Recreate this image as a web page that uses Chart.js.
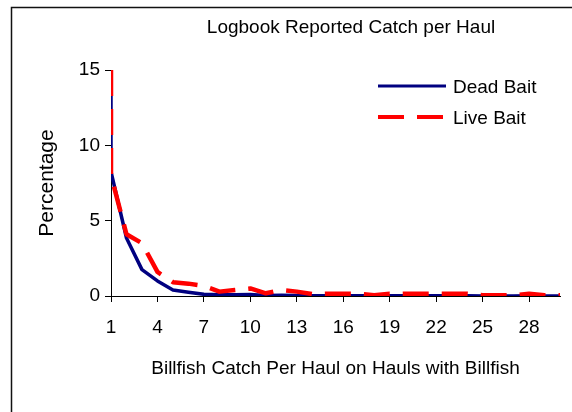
<!DOCTYPE html>
<html>
<head>
<meta charset="utf-8">
<script src="https://cdn.jsdelivr.net/npm/chart.js@4/dist/chart.umd.min.js"></script>
<style>
  html, body { margin: 0; padding: 0; background: #fff; }
  #wrap { width: 572px; height: 412px; }
</style>
</head>
<body>
<div id="wrap"><canvas id="catchChart"></canvas></div>
<script>
// catch per haul (x); the first 1 is the top of the clipped spike at one fish
const hauls = [1, 1, 2, 3, 4, 5, 6, 7, 8, 9, 10, 11, 12, 13, 14, 15, 16, 17, 18, 19, 20, 21, 22, 23, 24, 25, 26, 27, 28, 29, 30];
const deadBait = [15, 8.25, 3.85, 1.75, 1.0, 0.4, 0.25, 0.11, 0.08, 0.08, 0.1, 0.03, 0.05, 0.03, 0.02, 0.02, 0.02, 0.01, 0.01, 0.01, 0.01, 0.01, 0.01, 0.01, 0.01, 0, 0, 0, 0.02, 0, 0];
const liveBait = [15, 8.0, 4.1, 3.5, 1.6, 0.92, 0.82, 0.67, 0.29, 0.4, 0.5, 0.18, 0.4, 0.29, 0.13, 0.15, 0.15, 0.15, 0.05, 0.15, 0.15, 0.15, 0.15, 0.15, 0.15, 0.05, 0.05, 0.05, 0.15, 0.05, 0.05];
const xTicks = [1, 4, 7, 10, 13, 16, 19, 22, 25, 28];
const yTicks = [0, 5, 10, 15];

const FONT = '"Liberation Sans", Arial, sans-serif';

const toPoints = vals => vals.map((v, i) => ({ x: hauls[i], y: v }));

// frame, title and the in-plot legend
const decor = {
  id: 'decor',
  afterDraw(chart) {
    const ctx = chart.ctx;
    ctx.save();
    ctx.strokeStyle = '#111';
    ctx.lineWidth = 1.5;
    ctx.beginPath();
    ctx.moveTo(11.5, 412);
    ctx.lineTo(11.5, 7.5);
    ctx.lineTo(572, 7.5);
    ctx.stroke();

    ctx.fillStyle = '#000';
    ctx.font = '19px ' + FONT;
    ctx.textAlign = 'center';
    ctx.textBaseline = 'alphabetic';
    ctx.fillText('Logbook Reported Catch per Haul', 351, 33);

    const rows = [[0, 86, 92.5], [1, 117, 123.5]];
    ctx.textAlign = 'left';
    rows.forEach(([i, ly, ty]) => {
      const ds = chart.data.datasets[i];
      ctx.strokeStyle = ds.borderColor;
      ctx.lineWidth = i === 0 ? 3 : 4;
      ctx.setLineDash(ds.borderDash || []);
      ctx.beginPath();
      ctx.moveTo(378, ly);
      ctx.lineTo(446, ly);
      ctx.stroke();
      ctx.setLineDash([]);
      ctx.fillText(ds.label, 453, ty);
    });
    ctx.restore();
  }
};

new Chart(document.getElementById('catchChart'), {
  type: 'line',
  data: {
    datasets: [
      {
        label: 'Dead Bait',
        data: toPoints(deadBait),
        borderColor: '#000080',
        borderWidth: 3.5,
        order: 1
      },
      {
        label: 'Live Bait',
        data: toPoints(liveBait),
        borderColor: '#ff0000',
        borderWidth: 4.5,
        borderDash: [26, 13],
        order: 0
      }
    ]
  },
  options: {
    responsive: true,
    maintainAspectRatio: false,
    animation: false,
    layout: { padding: { left: 0, top: 70, right: 12, bottom: 0 } },
    elements: {
      point: { radius: 0 },
      line: { tension: 0, borderJoinStyle: 'round' }
    },
    plugins: {
      legend: { display: false },
      tooltip: { enabled: false }
    },
    scales: {
      x: {
        type: 'linear',
        min: 1,
        max: 30,
        afterBuildTicks: s => { s.ticks = xTicks.map(v => ({ value: v })); },
        afterFit: s => { s.height = 116; },
        border: { color: '#000', width: 1 },
        grid: { drawOnChartArea: false, color: '#000', tickLength: 6 },
        ticks: { autoSkip: false, maxRotation: 0, padding: 14, color: '#000', font: { family: FONT, size: 19 } },
        title: {
          display: true,
          text: 'Billfish Catch Per Haul on Hauls with Billfish',
          color: '#000',
          font: { family: FONT, size: 19 },
          padding: { top: 32, bottom: 32 }
        }
      },
      y: {
        min: 0,
        max: 15,
        afterBuildTicks: s => { s.ticks = yTicks.map(v => ({ value: v })); },
        afterFit: s => { s.width = 111; },
        border: { color: '#000', width: 1 },
        grid: { drawOnChartArea: false, color: '#000', tickLength: 6 },
        ticks: { padding: 5, color: '#000', font: { family: FONT, size: 19 } },
        title: {
          display: true,
          text: 'Percentage',
          color: '#000',
          font: { family: FONT, size: 21 },
          padding: { top: 35, bottom: 35 }
        }
      }
    }
  },
  plugins: [decor]
});
</script>
</body>
</html>
